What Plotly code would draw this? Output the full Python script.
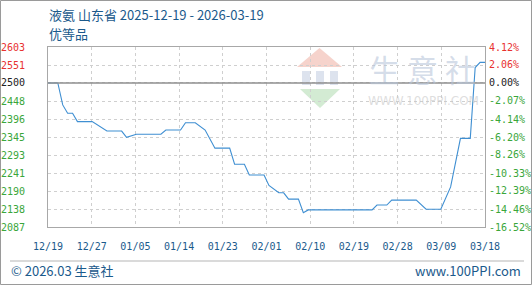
import datetime as dt
import plotly.graph_objects as go

# ---------------- data ----------------
dates = ["2025-12-19", "2025-12-21", "2025-12-22", "2025-12-23", "2025-12-24", "2025-12-25",
         "2025-12-28", "2025-12-31", "2026-01-03", "2026-01-04", "2026-01-06", "2026-01-11",
         "2026-01-12", "2026-01-15", "2026-01-16", "2026-01-18", "2026-01-20", "2026-01-22",
         "2026-01-25", "2026-01-26", "2026-01-28", "2026-01-29", "2026-02-01", "2026-02-02",
         "2026-02-04", "2026-02-05", "2026-02-06", "2026-02-08", "2026-02-09", "2026-02-10",
         "2026-02-23", "2026-02-24", "2026-02-26", "2026-02-27", "2026-03-04", "2026-03-06",
         "2026-03-09", "2026-03-11", "2026-03-13", "2026-03-15", "2026-03-16", "2026-03-17",
         "2026-03-18"]
prices = [2500, 2500, 2437, 2413, 2413, 2389,
          2389, 2362, 2362, 2344, 2353, 2353,
          2365, 2365, 2386, 2386, 2365, 2313,
          2313, 2267, 2267, 2236, 2236, 2206,
          2185, 2185, 2167, 2167, 2128, 2136,
          2136, 2150, 2150, 2164, 2164, 2138,
          2138, 2202, 2341, 2341, 2544, 2559,
          2559]
base_price = 2500

x_labels = ["12/19", "12/27", "01/05", "01/14", "01/23", "02/01", "02/10", "02/19", "02/28", "03/09", "03/18"]
y_ticks = [2087, 2138, 2190, 2241, 2293, 2345, 2396, 2448, 2500, 2551, 2603]
pct_labels = ["-16.52%", "-14.46%", "-12.39%", "-10.33%", "-8.26%", "-6.20%", "-4.14%", "-2.07%", "0.00%", "2.06%", "4.12%"]
pct_ticks = [-16.52, -14.46, -12.39, -10.33, -8.26, -6.20, -4.14, -2.07, 0.00, 2.06, 4.12]

title_text = "液氨 山东省 2025-12-19 - 2026-03-19"
subtitle_text = "优等品"
footer_left = "© 2026.03 生意社"
footer_right = "www.100PPI.com"

# ---------------- styling ----------------
W, H = 532, 285
L, R, T, B = 48, 485, 47, 227
PW, PH = R - L, B - T

RED = "#e8312f"
GREEN = "#3aa63a"
BLACK = "#222222"
BLUE_TXT = "#1b5a8c"
LINE = "#3f8fd2"
MONO = "DejaVu Sans Mono, Liberation Mono, monospace"
CJK = "Noto Sans CJK SC, Noto Sans, sans-serif"


def px(x):
    return (x - L) / PW


def py(y):
    return (B - y) / PH


def colored(text, v, ref):
    c = RED if v > ref else (BLACK if v == ref else GREEN)
    return f"<span style='color:{c}'>{text}</span>"


start = dt.datetime(2025, 12, 19)
end = dt.datetime(2026, 3, 18)
span = (end - start) / (len(x_labels) - 1)
x_tickvals = [start + span * i for i in range(len(x_labels))]

pcts = [(p / base_price - 1) * 100 for p in prices]

fig = go.Figure()
fig.add_trace(go.Scatter(x=dates, y=prices, mode="lines",
                         line=dict(color=LINE, width=1.1), yaxis="y", hoverinfo="skip"))
fig.add_trace(go.Scatter(x=dates, y=pcts, mode="lines",
                         line=dict(color="rgba(0,0,0,0)", width=0), yaxis="y2", hoverinfo="skip",
                         showlegend=False))

shapes = []
# watermark logo
shapes.append(dict(type="path", xref="paper", yref="paper", layer="below",
                   path=f"M {px(297)} {py(67)} L {px(342)} {py(67)} L {px(319.5)} {py(48)} Z",
                   fillcolor="#f6d3cc", line=dict(width=0)))
shapes.append(dict(type="path", xref="paper", yref="paper", layer="below",
                   path=f"M {px(300)} {py(89)} L {px(340)} {py(89)} L {px(320)} {py(108)} Z",
                   fillcolor="#d3ebd3", line=dict(width=0)))
for bx in (302, 316, 330):
    shapes.append(dict(type="rect", xref="paper", yref="paper", layer="below",
                       x0=px(bx), x1=px(bx + 8), y0=py(85), y1=py(71),
                       fillcolor="#dde3ee", line=dict(width=0)))
# zero line
shapes.append(dict(type="line", xref="paper", yref="y", x0=0, x1=1, y0=base_price, y1=base_price,
                   line=dict(color="#8f8f8f", width=1.6)))
# footer separator
shapes.append(dict(type="line", xref="paper", yref="paper", x0=px(10), x1=px(524), y0=py(261), y1=py(261),
                   line=dict(color="#b5b5b5", width=1)))
# outer border
shapes.append(dict(type="rect", xref="paper", yref="paper", x0=px(0.5), x1=px(531.5), y0=py(284.5), y1=py(0.5),
                   line=dict(color="#9a9a9a", width=1), fillcolor="rgba(0,0,0,0)"))

annotations = [
    dict(text=title_text, x=px(47), y=py(15), xref="paper", yref="paper", xanchor="left", yanchor="middle",
         showarrow=False, font=dict(family=CJK, size=13, color=BLUE_TXT)),
    dict(text=subtitle_text, x=px(47), y=py(33), xref="paper", yref="paper", xanchor="left", yanchor="middle",
         showarrow=False, font=dict(family=CJK, size=13, color=BLUE_TXT)),
    dict(text=footer_left, x=px(9), y=py(270), xref="paper", yref="paper", xanchor="left", yanchor="middle",
         showarrow=False, font=dict(family=CJK, size=13, color=BLUE_TXT)),
    dict(text=footer_right, x=px(523), y=py(270), xref="paper", yref="paper", xanchor="right", yanchor="middle",
         showarrow=False, font=dict(family=CJK, size=13, color=BLUE_TXT)),
    dict(text="生 意 社", x=px(422), y=py(68), xref="paper", yref="paper", xanchor="center", yanchor="middle",
         showarrow=False, font=dict(family=CJK, size=31, color="rgba(185,198,218,0.6)")),
    dict(text="WWW.100PPI.COM", x=px(423), y=py(101), xref="paper", yref="paper", xanchor="center",
         yanchor="middle", showarrow=False, font=dict(family="DejaVu Sans, sans-serif", size=12,
                                                         color="rgba(200,200,200,0.6)")),
]

fig.update_layout(
    template="none",
    width=W, height=H,
    margin=dict(l=L, r=W - R, t=T, b=H - B, pad=0, autoexpand=False),
    paper_bgcolor="white", plot_bgcolor="white",
    showlegend=False,
    shapes=shapes,
    annotations=annotations,
    xaxis=dict(type="date", range=[start, end], tickmode="array", tickvals=x_tickvals, ticktext=x_labels,
               showgrid=True, gridcolor="#cfcfcf", griddash="dot", gridwidth=1,
               showline=True, linecolor="#a8a8a8", linewidth=1, mirror=True, automargin=False,
               ticks="", ticklabelstandoff=10,
               tickfont=dict(family=MONO, size=10, color=BLUE_TXT), zeroline=False),
    yaxis=dict(range=[y_ticks[0], y_ticks[-1]], tickmode="array", tickvals=y_ticks,
               ticktext=[colored(str(v), v, base_price) for v in y_ticks],
               showgrid=True, gridcolor="#cfcfcf", griddash="dot", gridwidth=1,
               showline=True, linecolor="#a8a8a8", linewidth=1, mirror=True, automargin=False,
               ticks="", ticklabelstandoff=20,
               tickfont=dict(family=MONO, size=10, color=GREEN), zeroline=False),
    yaxis2=dict(range=[pct_ticks[0], pct_ticks[-1]], overlaying="y", side="right", tickmode="array",
                tickvals=pct_ticks, automargin=False,
                ticktext=[colored(t, v, 0) for t, v in zip(pct_labels, pct_ticks)],
                showgrid=False, showline=False, ticks="", ticklabelstandoff=3,
                tickfont=dict(family=MONO, size=10, color=GREEN), zeroline=False),
)

fig.write_html("out.html")
